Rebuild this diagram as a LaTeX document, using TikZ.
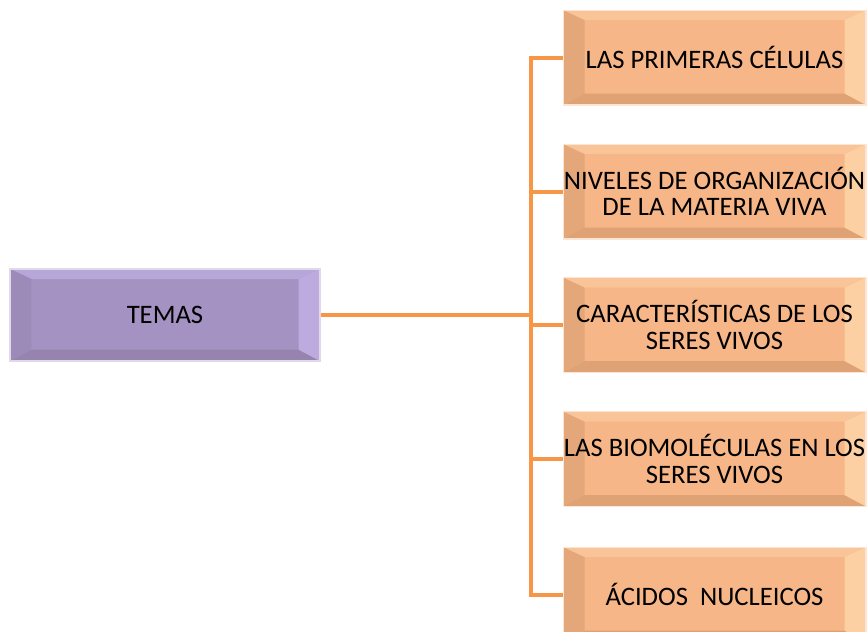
\documentclass[tikz,border=0pt]{standalone}
\usepackage{fontspec}
\setmainfont{Carlito}
\usepackage{tikz}
\usetikzlibrary{positioning}

\definecolor{lila}{HTML}{A492C3}
\definecolor{lilatop}{HTML}{B7A6D8}
\definecolor{lilaleft}{HTML}{9C8AB9}
\definecolor{lilaright}{HTML}{BDABE0}
\definecolor{lilabot}{HTML}{9684AF}
\definecolor{naranja}{HTML}{F6B688}
\definecolor{naranjatop}{HTML}{F9C497}
\definecolor{naranjaleft}{HTML}{E3A77A}
\definecolor{naranjaright}{HTML}{FCD0A2}
\definecolor{naranjabot}{HTML}{DEA274}
\definecolor{rama}{HTML}{F79646}

\tikzset{
  bevel/.style n args={4}{path picture={
    \fill[#1] (path picture bounding box.north west) -- (path picture bounding box.north east)
      -- ([xshift=-16pt,yshift=-7.5pt]path picture bounding box.north east)
      -- ([xshift=16pt,yshift=-7.5pt]path picture bounding box.north west) -- cycle;
    \fill[#4] (path picture bounding box.south west) -- (path picture bounding box.south east)
      -- ([xshift=-16pt,yshift=8.5pt]path picture bounding box.south east)
      -- ([xshift=16pt,yshift=8.5pt]path picture bounding box.south west) -- cycle;
    \fill[#2] (path picture bounding box.north west) -- ([xshift=16pt,yshift=-7.5pt]path picture bounding box.north west)
      -- ([xshift=16pt,yshift=8.5pt]path picture bounding box.south west)
      -- (path picture bounding box.south west) -- cycle;
    \fill[#3] (path picture bounding box.north east) -- ([xshift=-16pt,yshift=-7.5pt]path picture bounding box.north east)
      -- ([xshift=-16pt,yshift=8.5pt]path picture bounding box.south east)
      -- (path picture bounding box.south east) -- cycle;
  }},
  temabox/.style={rectangle, fill=lila, draw=lila!35!white, line width=1pt,
    minimum width=232.5pt, minimum height=69pt, inner sep=0pt,
    bevel={lilatop}{lilaleft}{lilaright}{lilabot},
    font=\fontsize{20}{20}\selectfont},
  topicbox/.style={rectangle, fill=naranja, draw=naranja!35!white, line width=1pt,
    minimum width=227pt, minimum height=71pt, inner sep=0pt, align=center,
    bevel={naranjatop}{naranjaleft}{naranjaright}{naranjabot},
    font=\fontsize{20}{20}\selectfont},
  conn/.style={draw=rama, line width=3pt},
}

\begin{document}
\begin{tikzpicture}[x=0.75pt, y=-0.75pt]
  \useasboundingbox (0,0) rectangle (868,632);

  \node[temabox] (temas) at (165,315) {TEMAS};

  \node[topicbox] (t1) at (714.5,57.5) {LAS PRIMERAS CÉLULAS};
  \node[topicbox] (t2) at (714.5,191.5) {NIVELES DE ORGANIZACIÓN\\DE LA MATERIA VIVA};
  \node[topicbox] (t3) at (714.5,325) {CARACTERÍSTICAS DE LOS\\SERES VIVOS};
  \node[topicbox] (t4) at (714.5,459) {LAS BIOMOLÉCULAS EN LOS\\SERES VIVOS};
  \node[topicbox] (t5) at (714.5,594.5) {ÁCIDOS~ NUCLEICOS};

  \coordinate (hub) at (531,315);

  \draw[conn] (temas.east) -- (hub);
  \foreach \t in {t1,t2,t3,t4,t5}
    \draw[conn] (\t.west) -| (hub);
\end{tikzpicture}
\end{document}
